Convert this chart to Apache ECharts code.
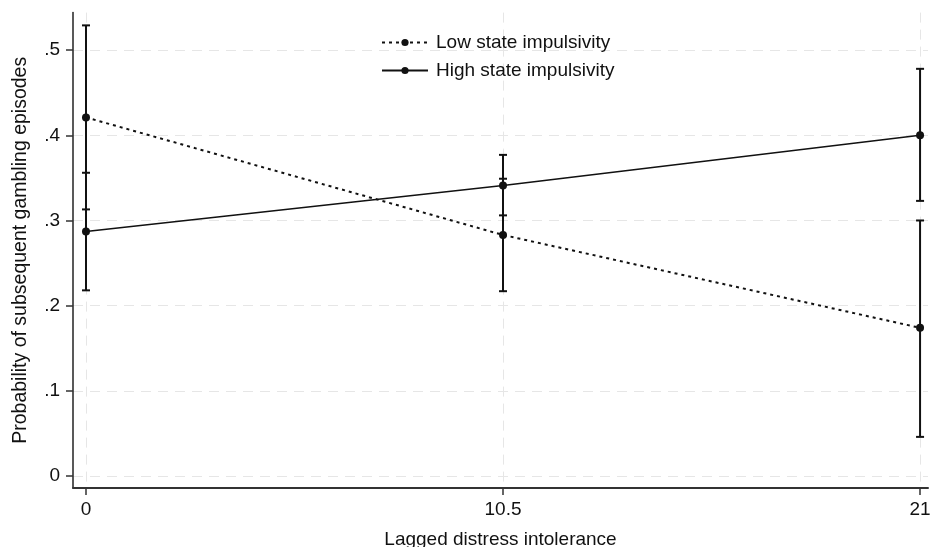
<!DOCTYPE html>
<html>
<head>
<meta charset="utf-8">
<script src="https://cdn.jsdelivr.net/npm/echarts@6/dist/echarts.min.js"></script>
<style>
html,body{margin:0;padding:0;background:#fff;}
#chart{width:930px;height:547px;}
</style>
</head>
<body>
<div id="chart"></div>
<script>
// ---- data ----
const xValues = [0, 10.5, 21];
const xTickValues = [0, 10.5, 21];
const yTickValues = [0, 0.1, 0.2, 0.3, 0.4, 0.5];
const yTickLabels = ['0', '.1', '.2', '.3', '.4', '.5'];
const seriesNames = ['Low state impulsivity', 'High state impulsivity'];
const lowEst = [0.421, 0.283, 0.174];
const lowLower = [0.313, 0.217, 0.046];
const lowUpper = [0.529, 0.349, 0.300];
const highEst = [0.287, 0.341, 0.400];
const highLower = [0.218, 0.306, 0.323];
const highUpper = [0.356, 0.377, 0.478];
const xAxisTitle = 'Lagged distress intolerance';
const yAxisTitle = 'Probability of subsequent gambling episodes';

const FONT = 'Liberation Sans, Arial, sans-serif';
const INK = '#111';

function pairs(est) { return xValues.map((x, i) => [x, est[i]]); }
function bars(lo, hi) { return xValues.map((x, i) => [x, lo[i], hi[i]]); }

function errorBarRender(params, api) {
  const x = api.value(0);
  const pLo = api.coord([x, api.value(1)]);
  const pHi = api.coord([x, api.value(2)]);
  const hw = 4;
  const style = { stroke: INK, lineWidth: 2 };
  return {
    type: 'group',
    children: [
      { type: 'line', shape: { x1: pLo[0], y1: pLo[1], x2: pHi[0], y2: pHi[1] }, style },
      { type: 'line', shape: { x1: pLo[0] - hw, y1: pLo[1], x2: pLo[0] + hw, y2: pLo[1] }, style },
      { type: 'line', shape: { x1: pHi[0] - hw, y1: pHi[1], x2: pHi[0] + hw, y2: pHi[1] }, style }
    ]
  };
}

const chart = echarts.init(document.getElementById('chart'), null, { renderer: 'canvas' });
chart.setOption({
  animation: false,
  backgroundColor: '#fff',
  textStyle: { fontFamily: FONT },
  grid: { left: 73, right: 2, top: 12.6, bottom: 59, containLabel: false, outerBoundsMode: 'none' },
  legend: {
    data: seriesNames,
    orient: 'vertical',
    left: 376,
    top: 28,
    itemWidth: 46,
    itemHeight: 9,
    itemGap: 9,
    textStyle: { fontFamily: FONT, fontSize: 19, color: INK, padding: [0, 0, 0, 3] },
    inactiveColor: '#ccc'
  },
  xAxis: {
    type: 'value',
    min: -0.327,
    max: 21.2,
    name: xAxisTitle,
    nameLocation: 'middle',
    nameGap: 42,
    nameTextStyle: { fontFamily: FONT, fontSize: 19, color: INK },
    axisLine: { onZero: false, lineStyle: { color: '#333', width: 2 } },
    axisTick: { show: true, length: 7, lineStyle: { color: '#333', width: 1.5 }, customValues: xTickValues },
    axisLabel: { fontFamily: FONT, fontSize: 19, color: INK, margin: 12, customValues: xTickValues,
      formatter: v => String(v) },
    splitLine: { show: true, lineStyle: { color: '#e6e6e6', width: 1, type: [10, 7] } }
  },
  yAxis: {
    type: 'value',
    min: -0.014,
    max: 0.544,
    name: yAxisTitle,
    nameLocation: 'middle',
    nameGap: 42,
    nameRotate: 90,
    nameTextStyle: { fontFamily: FONT, fontSize: 19.5, color: INK },
    axisLine: { show: true, onZero: false, lineStyle: { color: '#222', width: 1.5 } },
    axisTick: { show: true, length: 7, lineStyle: { color: '#333', width: 1.5 }, customValues: yTickValues },
    axisLabel: { fontFamily: FONT, fontSize: 19, color: INK, margin: 13, customValues: yTickValues,
      formatter: v => { const i = yTickValues.findIndex(t => Math.abs(t - v) < 1e-9); return i >= 0 ? yTickLabels[i] : ''; } },
    splitLine: { show: true, lineStyle: { color: '#e6e6e6', width: 1, type: [10, 7] } }
  },
  series: [
    {
      name: seriesNames[0],
      type: 'line',
      data: pairs(lowEst),
      symbol: 'circle',
      symbolSize: 8,
      itemStyle: { color: INK },
      lineStyle: { color: INK, width: 2, type: [3, 4] },
      z: 3
    },
    {
      name: seriesNames[1],
      type: 'line',
      data: pairs(highEst),
      symbol: 'circle',
      symbolSize: 8,
      itemStyle: { color: INK },
      lineStyle: { color: INK, width: 1.6, type: 'solid' },
      z: 3
    },
    {
      name: 'lowCI',
      type: 'custom',
      renderItem: errorBarRender,
      data: bars(lowLower, lowUpper),
      clip: false,
      z: 2
    },
    {
      name: 'highCI',
      type: 'custom',
      renderItem: errorBarRender,
      data: bars(highLower, highUpper),
      clip: false,
      z: 2
    }
  ]
});
</script>
</body>
</html>
